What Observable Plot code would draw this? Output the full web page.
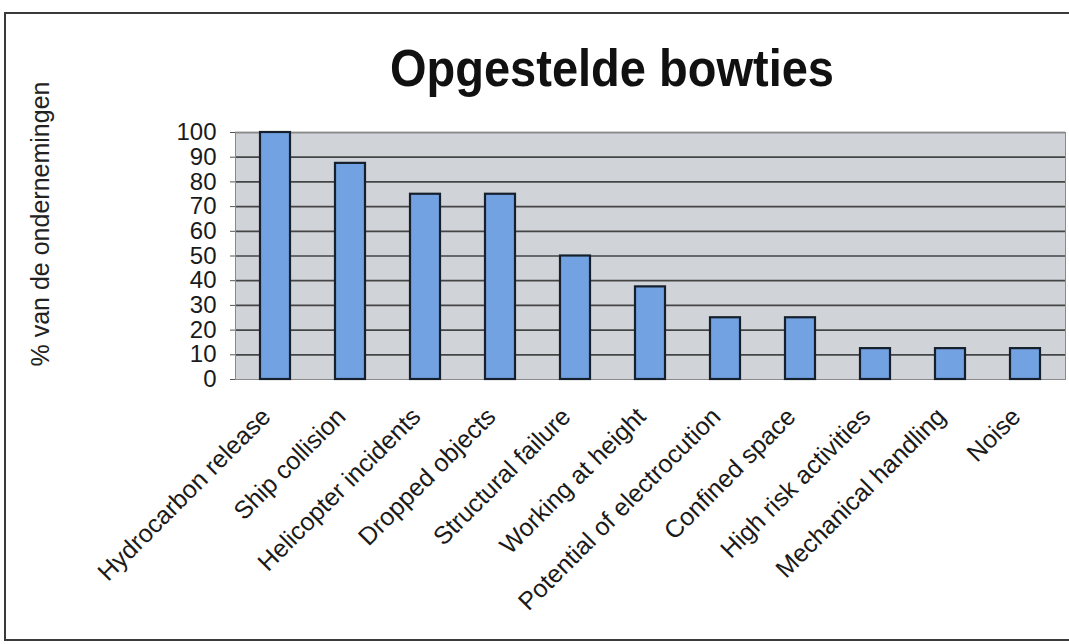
<!DOCTYPE html>
<html>
<head>
<meta charset="utf-8">
<script src="https://cdn.jsdelivr.net/npm/d3@7"></script>
<script src="https://cdn.jsdelivr.net/npm/@observablehq/plot@0.6"></script>
<style>
  html, body { margin: 0; padding: 0; background: #fff; }
  #wrap { position: relative; width: 1069px; height: 644px; overflow: hidden; font-family: "Liberation Sans", Arial, sans-serif; }
  #border { position: absolute; left: 4px; top: 12px; width: 1080px; height: 629px; border: 2px solid #3a3a3a; box-sizing: border-box; }
  #title { position: absolute; left: 612px; top: 46px; transform: translateX(-50%) scaleY(1.12); transform-origin: 50% 85%; font-weight: bold; font-size: 47px; line-height: 1; color: #111; white-space: nowrap; }
  #ylabel { position: absolute; left: 40px; top: 224px; transform: translate(-50%, -50%) rotate(-90deg); font-size: 25px; line-height: 1; color: #222; white-space: nowrap; }
  #chart { position: absolute; left: 0; top: 0; }
</style>
</head>
<body>
<div id="wrap">
  <div id="border"></div>
  <div id="chart"></div>
  <div id="title">Opgestelde bowties</div>
  <div id="ylabel">% van de ondernemingen</div>
</div>
<script>
const categories = [
  "Hydrocarbon release", "Ship collision", "Helicopter incidents", "Dropped objects",
  "Structural failure", "Working at height", "Potential of electrocution", "Confined space",
  "High risk activities", "Mechanical handling", "Noise"
];
const percentages = [100, 87.5, 75, 75, 50, 37.5, 25, 25, 12.5, 12.5, 12.5];
const yTicks = [0, 10, 20, 30, 40, 50, 60, 70, 80, 90, 100];

const data = categories.map((c, i) => ({category: c, value: percentages[i]}));

const chart = Plot.plot({
  width: 1069,
  height: 644,
  marginLeft: 235,
  marginRight: 4,
  marginTop: 132,
  marginBottom: 265,
  style: {fontFamily: "Liberation Sans, Arial, sans-serif", background: "transparent", color: "#1a1a1a"},
  x: {domain: categories, paddingInner: 0.6, paddingOuter: 0.3, label: null},
  y: {domain: [0, 100], label: null},
  marks: [
    Plot.frame({fill: "#d0d3d8", stroke: "none"}),
    Plot.ruleY(yTicks.filter(d => d > 0), {stroke: "#454545", strokeWidth: 1.7}),
    Plot.frame({stroke: "#8a8a8a", strokeWidth: 1}),
    Plot.barY(data, {x: "category", y: "value", fill: "#72a2e2", stroke: "#15202c", strokeWidth: 2.2}),
    Plot.axisY({ticks: yTicks, tickSize: 5, tickPadding: 14, fontSize: 24, stroke: "#555", label: null}),
    Plot.axisX({tickSize: 0, tickRotate: -45, tickPadding: 26, dx: -9, dy: 7, fontSize: 25, label: null})
  ]
});
document.getElementById("chart").appendChild(chart);
</script>
</body>
</html>
